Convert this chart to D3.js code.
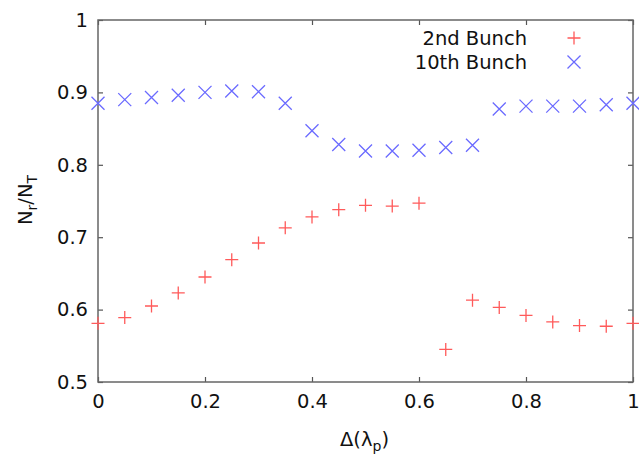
<!DOCTYPE html>
<html>
<head>
<meta charset="utf-8">
<script src="https://cdn.jsdelivr.net/npm/d3@7"></script>
<style>
  body { margin: 0; background: #fff; }
  svg { display: block; font-family: "DejaVu Sans", "Liberation Sans", Arial, sans-serif; }
</style>
</head>
<body>
<svg id="chart"></svg>
<script>
// x positions, Delta(lambda_p)
const deltas = [0, 0.05, 0.1, 0.15, 0.2, 0.25, 0.3, 0.35, 0.4, 0.45, 0.5,
  0.55, 0.6, 0.65, 0.7, 0.75, 0.8, 0.85, 0.9, 0.95, 1.0]
const bunch2 = [0.581, 0.589, 0.605, 0.623, 0.645, 0.669, 0.692, 0.713, 0.728, 0.738, 0.744,
  0.743, 0.747, 0.545, 0.613, 0.603, 0.592, 0.583, 0.578, 0.577, 0.581]
const bunch10 = [0.885, 0.890, 0.893, 0.896, 0.900, 0.902, 0.901, 0.885, 0.847, 0.828, 0.819,
  0.819, 0.820, 0.824, 0.827, 0.877, 0.881, 0.881, 0.881, 0.883, 0.885]
const xTicks = [0, 0.2, 0.4, 0.6, 0.8, 1]
const yTicks = [0.5, 0.6, 0.7, 0.8, 0.9, 1]
const seriesNames = ["2nd Bunch", "10th Bunch"]

const width = 639
const height = 455
const margin = { top: 20, right: 6, bottom: 73, left: 98 }
const innerWidth = width - margin.left - margin.right
const innerHeight = height - margin.top - margin.bottom
const red = "#ff5a5a"
const blue = "#6a6aff"
const ms = 6.5
const fs = 19.5

const svg = d3.select("#chart").attr("width", width).attr("height", height)
const g = svg.append("g").attr("transform", `translate(${margin.left},${margin.top})`)

const x = d3.scaleLinear().domain([0, 1]).range([0, innerWidth])
const y = d3.scaleLinear().domain([0.5, 1]).range([innerHeight, 0])

// axes with inward ticks, mirrored like gnuplot
const styleAxis = (sel) => {
  sel.select(".domain").remove()
  sel.selectAll(".tick line").attr("stroke", "#555").attr("stroke-width", 1.2)
  sel.selectAll(".tick text").attr("fill", "#111").attr("font-size", fs)
    .attr("font-family", "DejaVu Sans, Liberation Sans, sans-serif")
}
const mirror = (sel) => {
  styleAxis(sel)
  sel.selectAll(".tick text").remove()
}
g.append("g").attr("transform", `translate(0,${innerHeight})`)
  .call(d3.axisBottom(x).tickValues(xTicks).tickFormat(d3.format("")).tickSizeInner(-5).tickPadding(12))
  .call(styleAxis)
g.append("g")
  .call(d3.axisTop(x).tickValues(xTicks).tickSizeInner(-5))
  .call(mirror)
g.append("g")
  .call(d3.axisLeft(y).tickValues(yTicks).tickFormat(d3.format("")).tickSizeInner(-5).tickPadding(10))
  .call(styleAxis)
g.append("g").attr("transform", `translate(${innerWidth},0)`)
  .call(d3.axisRight(y).tickValues(yTicks).tickSizeInner(-5))
  .call(mirror)

g.append("rect")
  .attr("width", innerWidth).attr("height", innerHeight)
  .attr("fill", "none").attr("stroke", "#666").attr("stroke-width", 1.5)

// markers
const plus = (d) => `M${-ms},0H${ms}M0,${-ms}V${ms}`
const cross = (d) => `M${-ms},${-ms}L${ms},${ms}M${-ms},${ms}L${ms},${-ms}`

g.selectAll(".p2").data(deltas.map((d, i) => [d, bunch2[i]])).enter()
  .append("path").attr("class", "p2")
  .attr("transform", (d) => `translate(${x(d[0])},${y(d[1])})`)
  .attr("d", plus).attr("stroke", red).attr("stroke-width", 1.3).attr("fill", "none")

g.selectAll(".p10").data(deltas.map((d, i) => [d, bunch10[i]])).enter()
  .append("path").attr("class", "p10")
  .attr("transform", (d) => `translate(${x(d[0])},${y(d[1])})`)
  .attr("d", cross).attr("stroke", blue).attr("stroke-width", 1.3).attr("fill", "none")

// legend
const legend = g.append("g").attr("transform", `translate(${innerWidth - 106},0)`)
seriesNames.forEach((name, i) => {
  const ly = 18 + i * 24
  legend.append("text").attr("x", 0).attr("y", ly).attr("dy", "0.35em")
    .attr("text-anchor", "end").attr("font-size", fs).attr("fill", "#111").text(name)
  legend.append("path").attr("transform", `translate(47,${ly})`)
    .attr("d", i == 0 ? plus : cross)
    .attr("stroke", i == 0 ? red : blue).attr("stroke-width", 1.3).attr("fill", "none")
})

// axis labels
const xl = svg.append("text").attr("x", margin.left + innerWidth / 2 - 1).attr("y", 446)
  .attr("text-anchor", "middle").attr("font-size", fs).attr("fill", "#111")
xl.append("tspan").text("Δ(λ")
xl.append("tspan").attr("font-size", 14).attr("dy", 5).text("p")
xl.append("tspan").attr("dy", -5).text(")")

const yl = svg.append("text").attr("transform", "translate(32,200) rotate(-90)")
  .attr("text-anchor", "middle").attr("font-size", fs).attr("fill", "#111")
yl.append("tspan").text("N")
yl.append("tspan").attr("font-size", 14).attr("dy", 5).text("r")
yl.append("tspan").attr("dy", -5).text("/N")
yl.append("tspan").attr("font-size", 14).attr("dy", 5).text("T")
</script>
</body>
</html>
